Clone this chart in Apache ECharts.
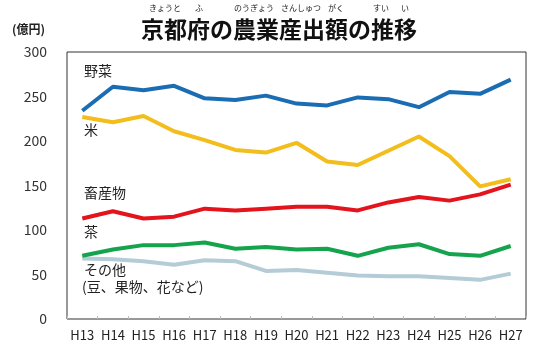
<!DOCTYPE html>
<html><head><meta charset="utf-8">
<script src="https://cdn.jsdelivr.net/npm/echarts@6/dist/echarts.min.js"></script>
<style>html,body{margin:0;padding:0;background:#fff}#c{width:543px;height:355px}</style>
</head><body><div id="c"></div>
<script>
const categories = ['H13','H14','H15','H16','H17','H18','H19','H20','H21','H22','H23','H24','H25','H26','H27'];
const yasai   = [234, 261, 257, 262, 248, 246, 251, 242, 240, 249, 247, 238, 255, 253, 269];
const kome    = [227, 221, 228, 211, 201, 190, 187, 198, 177, 173, 189, 205, 183, 149, 157];
const chikusan= [113, 121, 113, 115, 124, 122, 124, 126, 126, 122, 131, 137, 133, 140, 151];
const cha     = [71, 78, 83, 83, 86, 79, 81, 78, 79, 71, 80, 84, 73, 71, 82];
const sonota  = [68, 67, 65, 61, 66, 65, 54, 55, 52, 49, 48, 48, 46, 44, 51];
const yTicks = [0, 50, 100, 150, 200, 250, 300];

const FONT = '"Noto Sans CJK JP", "Noto Sans", sans-serif';
const chart = echarts.init(document.getElementById('c'), null, {renderer:'canvas'});
function line(name, data, color){
  return {name, type:'line', data, symbol:'none', smooth:false,
    lineStyle:{width:4, color}, itemStyle:{color}, z: 3};
}
const label = (text, x, y) => ({type:'text', left:x, top:y, style:{text, font:'14px '+FONT, fill:'#222'}});
const ruby = (text, cx, y) => ({type:'text', x:cx, y:y, style:{text, font:'8px '+FONT, fill:'#222', align:'center', verticalAlign:'middle'}});
chart.setOption({
  animation:false,
  grid:{left:67, right:17, top:52, bottom:36, show:true, borderColor:'#333', borderWidth:1, backgroundColor:'transparent'},
  xAxis:{type:'category', data:categories, boundaryGap:true,
    axisLine:{show:false}, axisTick:{show:true, inside:true, length:3, lineStyle:{color:'#bbb'}},
    axisLabel:{color:'#222', fontSize:13, fontFamily:FONT, margin:10, interval:0}},
  yAxis:{type:'value', min:0, max:300, interval:50,
    axisLine:{show:false}, axisTick:{show:false}, splitLine:{show:false},
    axisLabel:{color:'#333', fontSize:14, fontFamily:FONT, margin:20,
      formatter: v => yTicks.includes(v) ? String(v) : ''}},
  series:[
    line('その他', sonota, '#b3ccd6'),
    line('茶', cha, '#16a34e'),
    line('畜産物', chikusan, '#e3141c'),
    line('米', kome, '#f3bd1c'),
    line('野菜', yasai, '#1b6db3')
  ],
  graphic:[
    {type:'text', x:279, y:29, style:{text:'京都府の農業産出額の推移', font:'bold 23px '+FONT, fill:'#111', align:'center', verticalAlign:'middle'}},
    ruby('きょうと', 165, 8), ruby('ふ', 199, 8),
    ruby('のうぎょう', 254, 8), ruby('さんしゅつ', 301, 8), ruby('がく', 336, 8),
    ruby('すい', 381, 8), ruby('い', 405, 8),
    {type:'text', left:12, top:23, style:{text:'(億円)', font:'bold 12px '+FONT, fill:'#222'}},
    label('野菜', 84, 64),
    label('米', 84, 123),
    label('畜産物', 84, 186),
    label('茶', 84, 225),
    label('その他', 84, 263),
    label('(豆、果物、花など)', 82, 280)
  ]
});
</script></body></html>
